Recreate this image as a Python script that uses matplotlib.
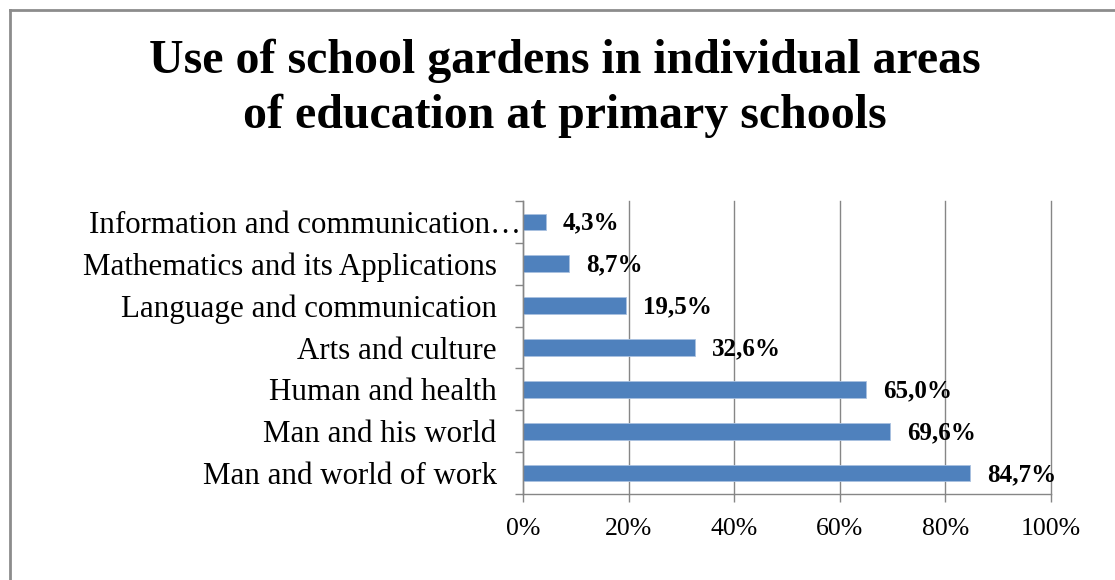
import matplotlib
matplotlib.use("Agg")
import matplotlib.pyplot as plt
from matplotlib.lines import Line2D
from matplotlib.ticker import FixedLocator, NullFormatter
from matplotlib.transforms import ScaledTranslation

categories = [
    "Man and world of work",
    "Man and his world",
    "Human and health",
    "Arts and culture",
    "Language and communication",
    "Mathematics and its Applications",
    "Information and communication\u2026",
]
values = [84.7, 69.6, 65.0, 32.6, 19.5, 8.7, 4.3]
value_labels = ["84,7%", "69,6%", "65,0%", "32,6%", "19,5%", "8,7%", "4,3%"]
x_ticks = [0, 20, 40, 60, 80, 100]
x_tick_labels = ["0%", "20%", "40%", "60%", "80%", "100%"]
title = "Use of school gardens in individual areas\nof education at primary schools"

serif = ["Liberation Serif", "DejaVu Serif"]
bar_color = "#4F81BD"
grid_color = "#868686"

W, H = 1115, 580
fig = plt.figure(figsize=(W / 100, H / 100), dpi=100)
fig.patch.set_facecolor("white")

# chart area border (top and left edges fall inside the canvas)
fig.add_artist(Line2D([10 / W, 1.0], [1 - 10 / H, 1 - 10 / H], transform=fig.transFigure,
                      color="#8c8c8c", lw=2))
fig.add_artist(Line2D([10 / W, 10 / W], [0, 1 - 10 / H], transform=fig.transFigure,
                      color="#8c8c8c", lw=2))

left, right, top, bottom = 523, 1051, 201, 494
ax = fig.add_axes([left / W, 1 - bottom / H, (right - left) / W, (bottom - top) / H])

y = list(range(len(categories)))
ax.barh(y, values, height=0.4, color=bar_color, edgecolor="#a9c1e0", linewidth=0.6, zorder=3)

for yi, v, lab in zip(y, values, value_labels):
    ax.text(v + 3.2, yi - 0.03, lab, va="center", ha="left", fontsize=18,
            fontweight="bold", family=serif, color="black", zorder=4)

ax.set_xlim(0, 100)
ax.set_ylim(-0.5, len(categories) - 0.5)
ax.set_xticks(x_ticks)
ax.set_xticklabels(x_tick_labels, family=serif, fontsize=18.5)

# category labels at bar centres, tick marks at category boundaries
ax.yaxis.set_major_locator(FixedLocator([i - 0.5 for i in range(len(categories) + 1)]))
ax.yaxis.set_major_formatter(NullFormatter())
ax.yaxis.set_minor_locator(FixedLocator(y))
ylabels = ax.set_yticklabels(categories, minor=True, family=serif, fontsize=22.3)
ax.tick_params(axis="y", which="minor", length=0, pad=19)
ax.tick_params(axis="y", which="major", length=6, width=1, color=grid_color, direction="out")
ax.tick_params(axis="x", length=6, width=1, color=grid_color, direction="out", pad=11)

# the truncated label runs past the others up to the axis line
ylabels[-1].set_transform(ylabels[-1].get_transform()
                          + ScaledTranslation(0.24, 0, fig.dpi_scale_trans))

ax.grid(axis="x", color=grid_color, lw=1, zorder=0)
for gl in ax.get_xgridlines():
    gl.set_clip_on(False)
for side in ("top", "right"):
    ax.spines[side].set_visible(False)
for side in ("left", "bottom"):
    ax.spines[side].set_color(grid_color)
    ax.spines[side].set_linewidth(1)
    ax.spines[side].set_zorder(5)

fig.text(565 / W, 1 - 88 / H, title, ha="center", va="center", fontsize=34.5,
         fontweight="bold", family=serif, linespacing=1.3)

fig.savefig("out.png", dpi=100, facecolor="white")
